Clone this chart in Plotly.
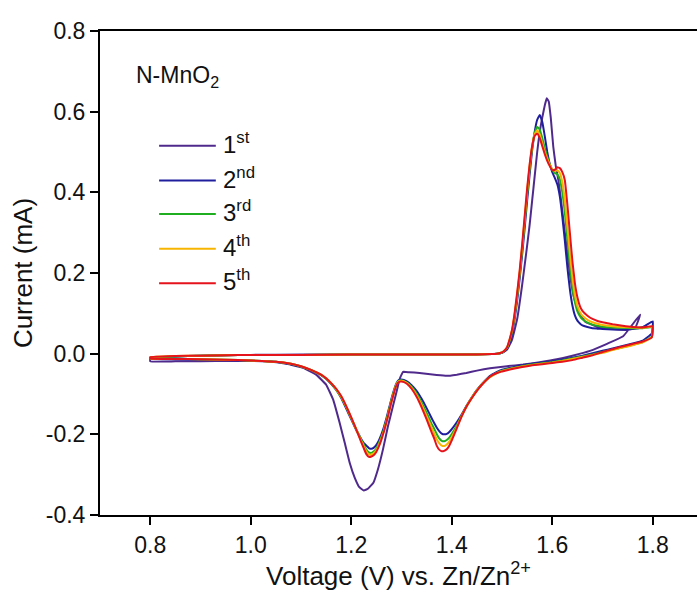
import plotly.graph_objects as go

# ---------------- data: CV of N-MnO2, cycles 1-5 ----------------
# cycle 1 (starts near 1.30 V, scans down first)
c1_v = [1.303, 1.300, 1.296, 1.290, 1.283, 1.273, 1.263, 1.253, 1.244, 1.233, 1.225,
        1.216, 1.207, 1.197, 1.187, 1.177, 1.164, 1.150, 1.130, 1.104, 1.071, 1.031,
        0.96, 0.90, 0.85, 0.80,
        0.80, 0.85, 0.90, 0.95, 1.00, 1.10, 1.20, 1.30, 1.40, 1.46, 1.49, 1.50, 1.51,
        1.52, 1.53, 1.54, 1.549, 1.555, 1.560, 1.565, 1.570, 1.575, 1.580, 1.585,
        1.589, 1.593, 1.597, 1.602, 1.607, 1.612, 1.617, 1.622, 1.629, 1.636, 1.643,
        1.652, 1.665, 1.69, 1.72, 1.75, 1.765, 1.775,
        1.741, 1.71, 1.675, 1.64, 1.609, 1.575, 1.542, 1.51, 1.476, 1.45, 1.429,
        1.41, 1.39, 1.37, 1.336, 1.315, 1.303]
c1_i = [-0.045, -0.052, -0.064, -0.095, -0.130, -0.180, -0.238, -0.287, -0.320, -0.335, -0.339,
        -0.331, -0.308, -0.271, -0.221, -0.172, -0.114, -0.077, -0.052, -0.035, -0.025, -0.019,
        -0.018, -0.019, -0.019, -0.019,
        -0.012, -0.007, -0.005, -0.004, -0.003, -0.002, -0.002, -0.002, -0.002, -0.001, 0.000, 0.002, 0.010,
        0.035, 0.085, 0.17, 0.258, 0.32, 0.38, 0.44, 0.50, 0.55, 0.585, 0.615,
        0.633, 0.625, 0.585, 0.513, 0.465, 0.431, 0.385, 0.332, 0.258, 0.19, 0.14,
        0.105, 0.080, 0.066, 0.061, 0.059, 0.064, 0.097,
        0.043, 0.025, 0.007, -0.005, -0.014, -0.021, -0.027, -0.031, -0.036, -0.042, -0.048,
        -0.052, -0.055, -0.053, -0.048, -0.046, -0.045]

# cycles 2-5 share the same potential steps
fwd_v = [0.80, 0.85, 0.90, 0.95, 1.00, 1.10, 1.20, 1.30, 1.40, 1.45, 1.48, 1.49, 1.50,
         1.505, 1.51, 1.515, 1.52, 1.525, 1.53, 1.535, 1.54, 1.545, 1.55, 1.555, 1.56,
         1.565, 1.57, 1.575, 1.58, 1.585, 1.59, 1.595, 1.60, 1.605, 1.61, 1.615, 1.62,
         1.625, 1.63, 1.635, 1.64, 1.645, 1.65, 1.655, 1.66, 1.67, 1.68, 1.69, 1.70,
         1.72, 1.74, 1.76, 1.78, 1.80]
rev_v = [1.80, 1.798, 1.78, 1.76, 1.74, 1.72, 1.70, 1.68, 1.66, 1.64, 1.62, 1.60, 1.58,
         1.56, 1.54, 1.52, 1.50, 1.49, 1.48, 1.47, 1.46, 1.45, 1.44, 1.43, 1.42, 1.41,
         1.40, 1.395, 1.39, 1.385, 1.38, 1.375, 1.37, 1.365, 1.36, 1.35, 1.34, 1.33, 1.32,
         1.31, 1.30, 1.295, 1.29, 1.285, 1.28, 1.275, 1.27, 1.265, 1.26, 1.255, 1.25,
         1.245, 1.24, 1.235, 1.23, 1.225, 1.22, 1.21, 1.20, 1.19, 1.18, 1.17, 1.16, 1.15,
         1.14, 1.12, 1.10, 1.08, 1.05, 1.00, 0.95, 0.90, 0.85, 0.80]

c2_fwd = [-0.010, -0.007, -0.005, -0.004, -0.003, -0.003, -0.002, -0.002, -0.002, -0.002, -0.001, 0.000, 0.002,
          0.006, 0.013, 0.028, 0.050, 0.085, 0.130, 0.185, 0.245, 0.310, 0.380, 0.445, 0.505,
          0.550, 0.580, 0.592, 0.575, 0.540, 0.500, 0.470, 0.450, 0.436, 0.420, 0.390, 0.340,
          0.280, 0.215, 0.160, 0.120, 0.095, 0.082, 0.075, 0.070, 0.066, 0.063, 0.062, 0.061,
          0.060, 0.060, 0.061, 0.066, 0.080]
c3_fwd = [-0.010, -0.007, -0.005, -0.004, -0.003, -0.003, -0.002, -0.002, -0.002, -0.002, -0.001, 0.000, 0.003,
          0.007, 0.015, 0.032, 0.056, 0.093, 0.140, 0.195, 0.258, 0.325, 0.395, 0.460, 0.512,
          0.547, 0.562, 0.556, 0.535, 0.510, 0.488, 0.470, 0.456, 0.448, 0.445, 0.432, 0.400,
          0.350, 0.285, 0.220, 0.165, 0.128, 0.105, 0.093, 0.085, 0.077, 0.072, 0.069, 0.067,
          0.065, 0.064, 0.063, 0.063, 0.066]
c4_fwd = [-0.009, -0.006, -0.005, -0.004, -0.003, -0.003, -0.002, -0.002, -0.002, -0.002, -0.001, 0.000, 0.003,
          0.008, 0.015, 0.034, 0.058, 0.097, 0.145, 0.200, 0.264, 0.333, 0.403, 0.465, 0.514,
          0.544, 0.554, 0.543, 0.522, 0.500, 0.483, 0.468, 0.457, 0.453, 0.455, 0.448, 0.425,
          0.380, 0.315, 0.250, 0.190, 0.145, 0.118, 0.103, 0.094, 0.084, 0.078, 0.074, 0.071,
          0.068, 0.066, 0.065, 0.064, 0.067]
c5_fwd = [-0.009, -0.006, -0.005, -0.004, -0.003, -0.003, -0.002, -0.002, -0.002, -0.002, -0.001, 0.000, 0.003,
          0.008, 0.016, 0.035, 0.060, 0.100, 0.150, 0.205, 0.270, 0.340, 0.410, 0.470, 0.515,
          0.540, 0.546, 0.535, 0.515, 0.495, 0.478, 0.465, 0.455, 0.456, 0.462, 0.460, 0.450,
          0.430, 0.370, 0.300, 0.230, 0.175, 0.140, 0.118, 0.106, 0.094, 0.086, 0.081, 0.078,
          0.073, 0.069, 0.066, 0.065, 0.068]

c2_rev = [0.080, 0.050, 0.032, 0.025, 0.019, 0.013, 0.007, 0.001, -0.005, -0.010, -0.015, -0.019, -0.022,
          -0.025, -0.029, -0.034, -0.040, -0.045, -0.052, -0.062, -0.075, -0.090, -0.108, -0.128, -0.150, -0.170,
          -0.187, -0.194, -0.199, -0.200, -0.198, -0.192, -0.183, -0.172, -0.160, -0.135, -0.112, -0.092, -0.078,
          -0.068, -0.064, -0.065, -0.073, -0.090, -0.112, -0.136, -0.160, -0.182, -0.200, -0.215, -0.226,
          -0.233, -0.236, -0.234, -0.228, -0.222, -0.212, -0.190, -0.163, -0.136, -0.110, -0.090, -0.075, -0.062,
          -0.053, -0.041, -0.032, -0.026, -0.020, -0.017, -0.016, -0.015, -0.014, -0.013]
c3_rev = [0.066, 0.042, 0.029, 0.022, 0.016, 0.010, 0.004, -0.002, -0.007, -0.012, -0.017, -0.021, -0.024,
          -0.027, -0.031, -0.036, -0.042, -0.047, -0.054, -0.064, -0.076, -0.091, -0.109, -0.129, -0.153, -0.178,
          -0.199, -0.208, -0.214, -0.217, -0.216, -0.210, -0.199, -0.186, -0.174, -0.147, -0.121, -0.099, -0.082,
          -0.071, -0.066, -0.067, -0.075, -0.093, -0.115, -0.140, -0.165, -0.188, -0.206, -0.222, -0.235,
          -0.242, -0.246, -0.245, -0.238, -0.226, -0.214, -0.188, -0.160, -0.133, -0.108, -0.089, -0.074, -0.062,
          -0.053, -0.041, -0.032, -0.025, -0.020, -0.017, -0.015, -0.014, -0.013, -0.012]
c4_rev = [0.067, 0.041, 0.028, 0.021, 0.015, 0.009, 0.002, -0.003, -0.008, -0.013, -0.018, -0.022, -0.025,
          -0.028, -0.032, -0.037, -0.043, -0.048, -0.055, -0.064, -0.076, -0.091, -0.109, -0.130, -0.154, -0.182,
          -0.207, -0.218, -0.225, -0.229, -0.228, -0.222, -0.212, -0.198, -0.184, -0.155, -0.127, -0.103, -0.085,
          -0.072, -0.067, -0.068, -0.076, -0.095, -0.118, -0.143, -0.168, -0.191, -0.210, -0.226, -0.239,
          -0.246, -0.250, -0.250, -0.243, -0.230, -0.217, -0.188, -0.159, -0.131, -0.107, -0.088, -0.073, -0.061,
          -0.052, -0.040, -0.031, -0.025, -0.020, -0.017, -0.015, -0.014, -0.013, -0.012]
c5_rev = [0.068, 0.040, 0.030, 0.024, 0.018, 0.011, 0.004, -0.004, -0.010, -0.016, -0.020, -0.023, -0.026,
          -0.029, -0.033, -0.038, -0.044, -0.048, -0.054, -0.064, -0.077, -0.092, -0.110, -0.130, -0.155, -0.185,
          -0.215, -0.228, -0.237, -0.241, -0.242, -0.238, -0.228, -0.210, -0.195, -0.163, -0.133, -0.107, -0.087,
          -0.074, -0.069, -0.070, -0.078, -0.097, -0.120, -0.145, -0.170, -0.193, -0.213, -0.230, -0.243,
          -0.251, -0.255, -0.256, -0.249, -0.235, -0.220, -0.188, -0.158, -0.130, -0.105, -0.087, -0.073, -0.061,
          -0.052, -0.040, -0.031, -0.025, -0.020, -0.017, -0.015, -0.014, -0.013, -0.012]

cycle_names = ["1<sup>st</sup>", "2<sup>nd</sup>", "3<sup>rd</sup>", "4<sup>th</sup>", "5<sup>th</sup>"]
cycle_colors = ["#4f2a8c", "#1f1f9e", "#1fae1f", "#f7b500", "#e5131b"]

x_ticks = [0.8, 1.0, 1.2, 1.4, 1.6, 1.8]
y_ticks = [-0.4, -0.2, 0.0, 0.2, 0.4, 0.6, 0.8]

# ---------------- build traces ----------------
curves = [
    (c1_v, c1_i),
    (rev_v + fwd_v, c2_rev + c2_fwd),
    (rev_v + fwd_v, c3_rev + c3_fwd),
    (rev_v + fwd_v, c4_rev + c4_fwd),
    (rev_v + fwd_v, c5_rev + c5_fwd),
]

fig = go.Figure()
for (xv, yv), name, col in zip(curves, cycle_names, cycle_colors):
    fig.add_trace(go.Scatter(x=xv, y=yv, mode="lines", name=name,
                             line=dict(color=col, width=2, shape="spline", smoothing=0.3),
                             showlegend=False))

FONT = "Liberation Sans, Arial, sans-serif"

# hand-placed legend (line sample + label) in the upper-left corner
ann = [dict(x=0.057, y=0.905, xref="paper", yref="paper", text="N-MnO<sub>2</sub>",
            showarrow=False, xanchor="left", yanchor="middle",
            font=dict(family=FONT, size=23, color="#111"))]
shapes = []
row_y = [0.763, 0.691, 0.622, 0.550, 0.479]
for ry, name, col in zip(row_y, cycle_names, cycle_colors):
    shapes.append(dict(type="line", xref="paper", yref="paper",
                       x0=0.099, x1=0.194, y0=ry, y1=ry,
                       line=dict(color=col, width=2)))
    ann.append(dict(x=0.203, y=ry + 0.006, xref="paper", yref="paper", text=name,
                    showarrow=False, xanchor="left", yanchor="middle",
                    font=dict(family=FONT, size=24, color="#111")))

fig.update_layout(
    width=697, height=595,
    margin=dict(l=100, r=0, t=31, b=80),
    paper_bgcolor="white", plot_bgcolor="white",
    font=dict(family=FONT, size=20, color="#111"),
    annotations=ann, shapes=shapes,
)
fig.update_xaxes(range=[0.7, 1.888], tickvals=x_ticks, ticktext=[f"{v:.1f}" for v in x_ticks],
                 showgrid=False, zeroline=False, showline=True, linecolor="black", linewidth=2,
                 mirror=True, ticks="outside", ticklen=8, tickwidth=2, tickcolor="black",
                 tickfont=dict(size=23),
                 title=dict(text="Voltage (V) vs. Zn/Zn<sup>2+</sup>", font=dict(size=26), standoff=4))
fig.update_yaxes(range=[-0.4, 0.8], tickvals=y_ticks, ticktext=[f"{v:.1f}" for v in y_ticks],
                 showgrid=False, zeroline=False, showline=True, linecolor="black", linewidth=2,
                 mirror=False, ticks="outside", ticklen=8, tickwidth=2, tickcolor="black",
                 tickfont=dict(size=23),
                 title=dict(text="Current (mA)", font=dict(size=26), standoff=6))

fig.write_html("out.html")
